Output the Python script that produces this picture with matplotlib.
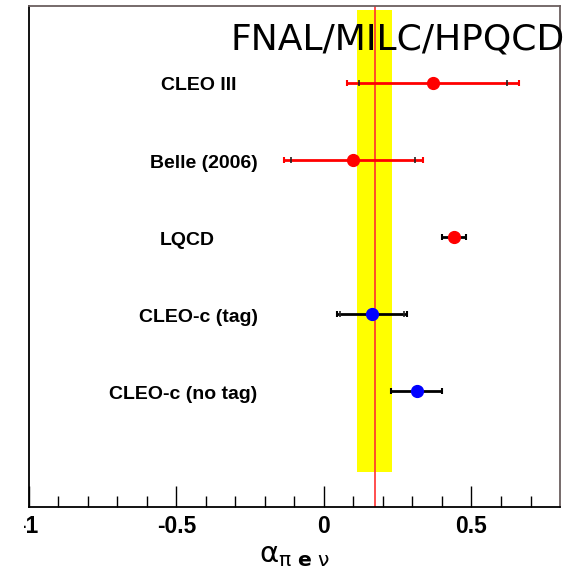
import matplotlib.pyplot as plt
from matplotlib.transforms import Bbox, IdentityTransform, TransformedBbox

# Mesures (valeur centrale, erreur stat, erreur totale)
labels = ["CLEO III", "Belle (2006)", "LQCD", "CLEO-c (tag)", "CLEO-c (no tag)"]
ypos = [5, 4, 3, 2, 1]
values = [0.37, 0.10, 0.44, 0.163, 0.314]
err_stat = [0.25, 0.21, 0.0, 0.11, 0.0]
err_tot = [0.29, 0.235, 0.04, 0.12, 0.086]
marker_colors = ["red", "red", "red", "blue", "blue"]
bar_colors = ["red", "red", "black", "black", "black"]
label_x = [-0.552, -0.589, -0.555, -0.626, -0.727]

# Moyenne FNAL/MILC/HPQCD
avg_value = 0.172
avg_low, avg_high = 0.113, 0.232

fig = plt.figure(figsize=(5.81, 5.71), dpi=100)
ax = fig.add_axes([0.0494, 0.1121, 0.9145, 0.878])

# Bande jaune et ligne rouge
ax.fill_betweenx([-0.04, 5.94], avg_low, avg_high, color="#ffff00", lw=0, zorder=1)
ax.axvline(avg_value, color="#ff3030", lw=1.2, zorder=2)

for i in range(len(labels)):
    # erreur totale
    ax.errorbar(values[i], ypos[i], xerr=err_tot[i], fmt="none", ecolor=bar_colors[i],
                elinewidth=2, capsize=2.5, capthick=1.5, zorder=3)
    # erreur stat (petits traits)
    if err_stat[i] > 0:
        ax.errorbar(values[i], ypos[i], xerr=err_stat[i], fmt="none", ecolor="#222222",
                    elinewidth=0, capsize=2, capthick=1.2, zorder=4)
    ax.plot(values[i], ypos[i], "o", color=marker_colors[i], markersize=8.5, zorder=5)
    ax.text(label_x[i], ypos[i] - 0.1, labels[i], fontsize=14, fontweight="bold",
            family="Liberation Sans", ha="left", va="baseline")

ax.set_xlim(-1, 0.8)
ax.set_ylim(-0.5, 6)
ax.set_yticks([])
ax.set_xticks([-1, -0.5, 0, 0.5])
ax.set_xticklabels(["-1", "-0.5", "0", "0.5"])
ax.set_xticks([x / 10 for x in range(-9, 8)], minor=True)
ax.tick_params(axis="x", which="major", direction="in", length=15, width=1, pad=6,
               labelsize=16.5, colors="black")
ax.tick_params(axis="x", which="minor", direction="in", length=8, width=1)
for lab in ax.get_xticklabels():
    lab.set_fontweight("bold")
    lab.set_family("Liberation Sans")

for s in ["left", "bottom"]:
    ax.spines[s].set_color("black")
for s in ["top", "right"]:
    ax.spines[s].set_color("#6b5f5f")
for s in ax.spines.values():
    s.set_linewidth(1.3)

ax.set_xlabel(r"$\mathrm{\alpha}_{\mathrm{\pi}\ \mathbf{e}\ \mathrm{\nu}}$", fontsize=21, labelpad=2)

fig.text(565 / 581, 1 - 49 / 571, "FNAL/MILC/HPQCD", fontsize=26, ha="right", va="baseline")

# l'etiquette "-1" est coupee a gauche comme sur l'original
first = ax.get_xticklabels()[0]
first.set_clip_box(TransformedBbox(Bbox([[24, 0], [300, 571]]), IdentityTransform()))
first.set_clip_on(True)

fig.savefig("out.png", dpi=100)
